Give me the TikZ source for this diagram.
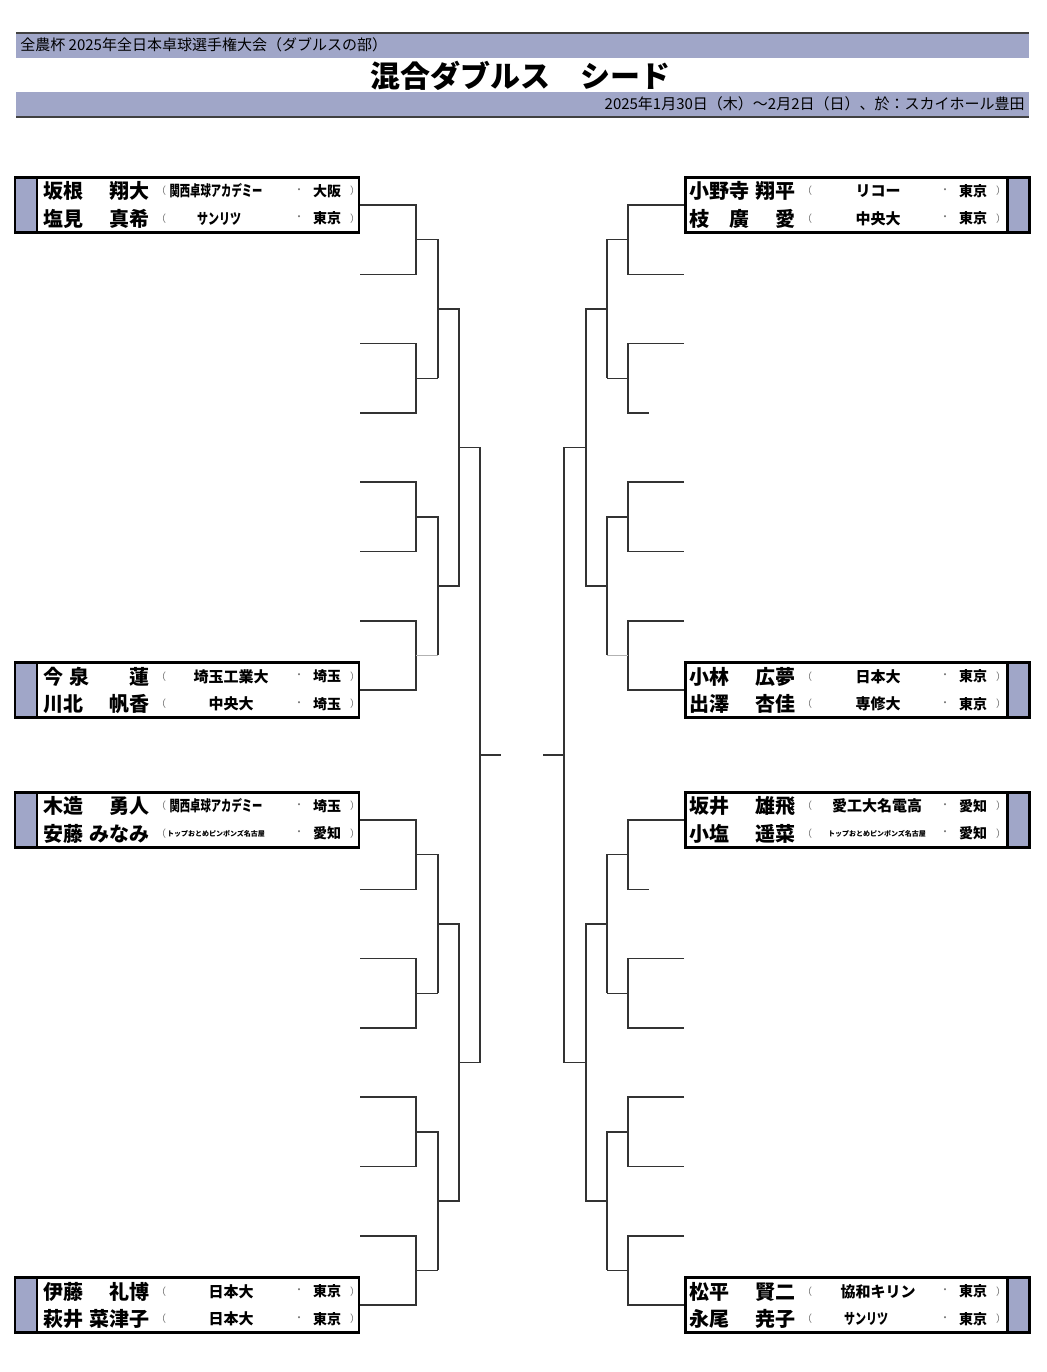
\documentclass[tikz,border=0pt]{standalone}
\usepackage{fontspec}
\setmainfont{Noto Sans CJK JP}
\usetikzlibrary{calc}

\definecolor{bandblue}{RGB}{160,166,200}

\tikzset{
  bline/.style={line width=0.75pt, black!80},
  faint/.style={line width=0.4pt, black!30},
  pbox/.style={draw, line width=1.25pt, minimum width=172pt, minimum height=27.5pt, inner sep=0pt},
  lstrip/.style={path picture={
      \fill[bandblue] (path picture bounding box.north west) rectangle ([xshift=11pt]path picture bounding box.south west);
      \draw[line width=1.25pt] ([xshift=11pt]path picture bounding box.north west) -- ([xshift=11pt]path picture bounding box.south west);}},
  rstrip/.style={path picture={
      \fill[bandblue] (path picture bounding box.north east) rectangle ([xshift=-11pt]path picture bounding box.south east);
      \draw[line width=1.25pt] ([xshift=-11pt]path picture bounding box.north east) -- ([xshift=-11pt]path picture bounding box.south east);}},
  namefont/.style={font=\fontsize{10}{12}\selectfont\bfseries, inner sep=0pt},
  teamfont/.style={font=\fontsize{7.5}{9}\selectfont\bfseries, inner sep=0pt},
  preffont/.style={font=\fontsize{7}{8}\selectfont\bfseries, inner sep=0pt},
  paren/.style={font=\fontsize{5}{6}\selectfont, text=black!55, inner sep=0pt},
}

% one row of a pair box: tag, x offset, y, name, team x, team, prefecture
\newcommand{\entry}[7]{%
  \node[namefont, anchor=west] (#1n) at ({#2+43},#3) {\makebox[53pt][s]{#4}};
  \node[paren] (#1o) at ({#2+161},#3) {（};
  \node[teamfont] (#1t) at (#5,#3) {#6};
  \node[paren] (#1d) at ({#2+299},#3) {・};
  \node[preffont] (#1p) at ({#2+327},#3) {#7};
  \node[paren] (#1c) at ({#2+355},#3) {）};
}

\begin{document}
\begin{tikzpicture}[x=0.5pt,y=-0.5pt]
\useasboundingbox (0,0) rectangle (1046,1372);

% header
\fill[bandblue] (16,33) rectangle (1029,58);
\draw[line width=1pt, black!75] (16,33) -- (1029,33);
\node[anchor=west, font=\fontsize{7.5}{9}\selectfont, inner sep=0pt] (cup) at (20,45)
  {全農杯 2025年全日本卓球選手権大会（ダブルスの部）};
\node[font=\fontsize{15}{18}\selectfont\bfseries, inner sep=0pt] (title) at (520,76)
  {混合ダブルス　シード};
\fill[bandblue] (16,92) rectangle (1029,116);
\draw[line width=1pt, black!75] (16,117) -- (1029,117);
\node[anchor=east, font=\fontsize{7.5}{9}\selectfont, inner sep=0pt] (date) at (1025,104)
  {2025年1月30日（木）～2月2日（日）、於：スカイホール豊田};

% columns of the bracket
\coordinate (lx1) at (416,0); \coordinate (lx2) at (438,0); \coordinate (lx3) at (459,0);
\coordinate (lx4) at (480,0); \coordinate (lx5) at (501,0);
\coordinate (rx1) at (628,0); \coordinate (rx2) at (607,0); \coordinate (rx3) at (586,0);
\coordinate (rx4) at (564,0); \coordinate (rx5) at (543,0);

% slots
\foreach \i/\y in {1/205,2/274.3,3/343.6,4/412.9,5/482.2,6/551.5,7/620.8,8/690.1,
                   9/820,10/889.3,11/958.6,12/1027.9,13/1097.2,14/1166.5,15/1235.8,16/1305.1}{
  \coordinate (ls\i) at (360,\y);
  \coordinate (rs\i) at (684,\y);
}
\coordinate (rs4) at (649,412.9);
\coordinate (rs10) at (649,889.3);

\foreach \s in {l,r}{
  % round 1
  \foreach \k [evaluate=\k as \a using int(2*\k-1), evaluate=\k as \b using int(2*\k)] in {1,...,8}{
    \draw[bline] (\s s\a) -- (\s s\a -| \s x1) -- (\s s\b -| \s x1) -- (\s s\b);
    \coordinate (\s j1-\k) at ($(\s s\a -| \s x1)!.5!(\s s\b -| \s x1)$);
  }
  % round 2
  \foreach \m/\st [evaluate=\m as \a using int(2*\m-1), evaluate=\m as \b using int(2*\m)] in {1/bline,2/faint,3/bline,4/bline}{
    \draw[bline] (\s j1-\a) -- (\s j1-\a -| \s x2) -- (\s j1-\b -| \s x2);
    \draw[\st] (\s j1-\b -| \s x2) -- (\s j1-\b);
    \coordinate (\s j2-\m) at ($(\s j1-\a -| \s x2)!.5!(\s j1-\b -| \s x2)$);
  }
  % round 3
  \foreach \m [evaluate=\m as \a using int(2*\m-1), evaluate=\m as \b using int(2*\m)] in {1,2}{
    \draw[bline] (\s j2-\a) -- (\s j2-\a -| \s x3) -- (\s j2-\b -| \s x3) -- (\s j2-\b);
    \coordinate (\s j3-\m) at ($(\s j2-\a -| \s x3)!.5!(\s j2-\b -| \s x3)$);
  }
  % semi final
  \draw[bline] (\s j3-1) -- (\s j3-1 -| \s x4) -- (\s j3-2 -| \s x4) -- (\s j3-2);
  \coordinate (\s j4) at ($(\s j3-1 -| \s x4)!.5!(\s j3-2 -| \s x4)$);
  \draw[bline] (\s j4) -- (\s j4 -| \s x5);
}

% seeded pairs
\node[pbox, lstrip, anchor=east] (L1) at (ls1) {};
\node[pbox, lstrip, anchor=east] (L2) at (ls8) {};
\node[pbox, lstrip, anchor=east] (L3) at (ls9) {};
\node[pbox, lstrip, anchor=east] (L4) at (ls16) {};
\node[pbox, rstrip, anchor=west] (R1) at (rs1) {};
\node[pbox, rstrip, anchor=west] (R2) at (rs8) {};
\node[pbox, rstrip, anchor=west] (R3) at (rs9) {};
\node[pbox, rstrip, anchor=west] (R4) at (rs16) {};

\entry{L1a}{0}{191}{坂根\hfill 翔大}{216}{\resizebox{46.5pt}{\height}{関西卓球アカデミー}}{大阪}
\entry{L1b}{0}{218.5}{塩見\hfill 真希}{219}{\resizebox{22pt}{\height}{サンリツ}}{東京}
\entry{L2a}{0}{676.5}{今\kern3pt 泉\hfill 蓮}{231}{埼玉工業大}{埼玉}
\entry{L2b}{0}{704}{川北\hfill 帆香}{231}{中央大}{埼玉}
\entry{L3a}{0}{806}{木造\hfill 勇人}{216}{\resizebox{46.5pt}{\height}{関西卓球アカデミー}}{埼玉}
\entry{L3b}{0}{833.5}{安藤\hfill みなみ}{216}{\fontsize{3.5}{4}\selectfont トップおとめピンポンズ名古屋}{愛知}
\entry{L4a}{0}{1291.5}{伊藤\hfill 礼博}{231}{日本大}{東京}
\entry{L4b}{0}{1319}{萩井\hfill 菜津子}{231}{日本大}{東京}

\entry{R1a}{646}{191}{小野寺\hfill 翔平}{878}{リコー}{東京}
\entry{R1b}{646}{218.5}{枝\kern10pt 廣\hfill 愛}{878}{中央大}{東京}
\entry{R2a}{646}{676.5}{小林\hfill 広夢}{878}{日本大}{東京}
\entry{R2b}{646}{704}{出澤\hfill 杏佳}{878}{専修大}{東京}
\entry{R3a}{646}{806}{坂井\hfill 雄飛}{877}{愛工大名電高}{愛知}
\entry{R3b}{646}{833.5}{小塩\hfill 遥菜}{877}{\fontsize{3.5}{4}\selectfont トップおとめピンポンズ名古屋}{愛知}
\entry{R4a}{646}{1291.5}{松平\hfill 賢二}{878}{協和キリン}{東京}
\entry{R4b}{646}{1319}{永尾\hfill 尭子}{866}{\resizebox{22pt}{\height}{サンリツ}}{東京}

\end{tikzpicture}
\end{document}
